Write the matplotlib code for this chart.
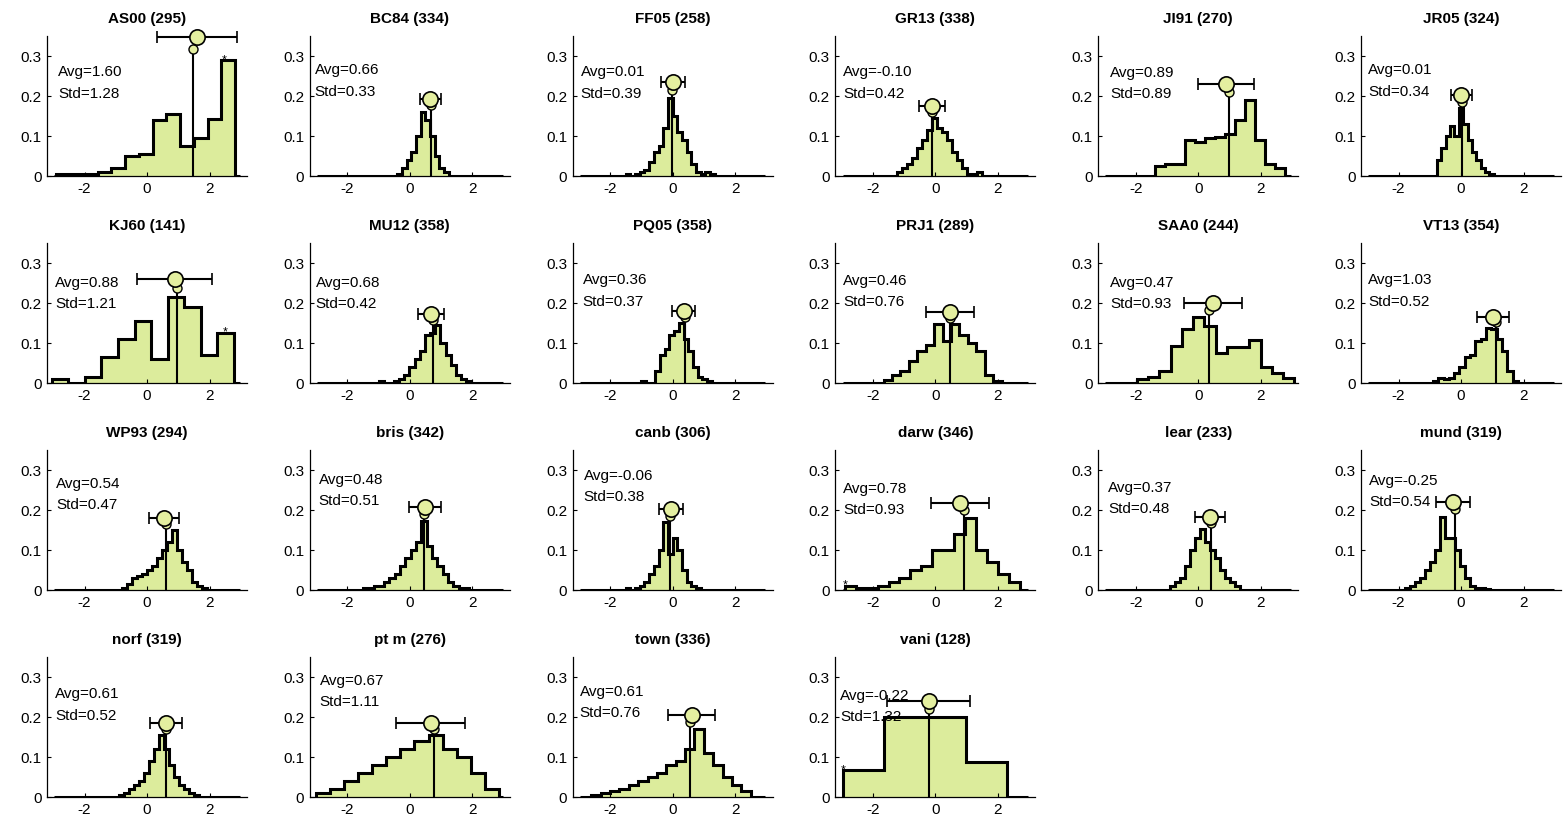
import numpy as np
import matplotlib
matplotlib.use("Agg")
import matplotlib.pyplot as plt

plt.rcParams['font.family'] = ['Liberation Sans', 'DejaVu Sans']
plt.rcParams['axes.unicode_minus'] = False

# station names, sample counts and summary statistics
names = ["AS00", "BC84", "FF05", "GR13", "JI91", "JR05",
         "KJ60", "MU12", "PQ05", "PRJ1", "SAA0", "VT13",
         "WP93", "bris", "canb", "darw", "lear", "mund",
         "norf", "pt m", "town", "vani"]
counts = [295, 334, 258, 338, 270, 324,
          141, 358, 358, 289, 244, 354,
          294, 342, 306, 346, 233, 319,
          319, 276, 336, 128]
avgs = [1.60, 0.66, 0.01, -0.10, 0.89, 0.01,
        0.88, 0.68, 0.36, 0.46, 0.47, 1.03,
        0.54, 0.48, -0.06, 0.78, 0.37, -0.25,
        0.61, 0.67, 0.61, -0.22]
stds = [1.28, 0.33, 0.39, 0.42, 0.89, 0.34,
        1.21, 0.42, 0.37, 0.76, 0.93, 0.52,
        0.47, 0.51, 0.38, 0.93, 0.48, 0.54,
        0.52, 1.11, 0.76, 1.32]
medians = [1.47, 0.67, -0.02, -0.10, 0.98, 0.03,
           0.95, 0.73, 0.40, 0.47, 0.33, 1.12,
           0.60, 0.47, -0.08, 0.90, 0.40, -0.20,
           0.62, 0.78, 0.55, -0.22]

# histogram layout: left edge of first listed bin and bin width
first_edge = [-2.90, -0.40, -1.50, -1.24, -1.37, -0.77,
              -3.05, -1.00, -1.00, -1.66, -1.96, -0.90,
              -0.80, -1.50, -1.50, -2.90, -0.90, -1.80,
              -0.90, -3.00, -2.60, -2.95]
bin_width = [0.44, 0.15, 0.15, 0.16, 0.32, 0.14,
             0.53, 0.165, 0.15, 0.27, 0.36, 0.17,
             0.16, 0.17, 0.15, 0.35, 0.16, 0.16,
             0.16, 0.45, 0.30, 1.31]

# fraction of samples per bin
h_AS00 = [0.003, 0.003, 0.004, 0.008, 0.018, 0.05, 0.055, 0.14, 0.155, 0.075, 0.095, 0.142, 0.288]
h_BC84 = [0.005, 0.02, 0.04, 0.06, 0.1, 0.16, 0.14, 0.1, 0.05, 0.02, 0.008]
h_FF05 = [0.005, 0.0, 0.005, 0.01, 0.015, 0.035, 0.06, 0.075, 0.12, 0.195, 0.15, 0.11,
          0.09, 0.06, 0.03, 0.01, 0.005, 0.01, 0.005]
h_GR13 = [0.01, 0.02, 0.03, 0.045, 0.07, 0.09, 0.115, 0.145, 0.12, 0.11, 0.09, 0.06,
          0.04, 0.02, 0.005, 0.005, 0.008]
h_JI91 = [0.025, 0.03, 0.028, 0.09, 0.085, 0.095, 0.097, 0.105, 0.14, 0.19, 0.09, 0.03, 0.02]
h_JR05 = [0.04, 0.07, 0.10, 0.125, 0.10, 0.168, 0.13, 0.09, 0.06, 0.04, 0.02, 0.01, 0.005]
h_KJ60 = [0.008, 0.0, 0.015, 0.065, 0.11, 0.155, 0.06, 0.215, 0.19, 0.07, 0.125]
h_MU12 = [0.005, 0.0, 0.0, 0.005, 0.01, 0.02, 0.04, 0.06, 0.08, 0.12, 0.125, 0.143, 0.1,
          0.07, 0.045, 0.02, 0.01, 0.005]
h_PQ05 = [0.003, 0.0, 0.0, 0.03, 0.07, 0.085, 0.12, 0.13, 0.149, 0.11, 0.08, 0.04, 0.015, 0.01, 0.005]
h_PRJ1 = [0.007, 0.02, 0.03, 0.055, 0.08, 0.095, 0.147, 0.105, 0.147, 0.12, 0.1, 0.08, 0.02, 0.005]
h_SAA0 = [0.008, 0.015, 0.03, 0.092, 0.135, 0.165, 0.142, 0.075, 0.09, 0.09, 0.106, 0.038, 0.025, 0.012]
h_VT13 = [0.005, 0.012, 0.008, 0.012, 0.025, 0.04, 0.065, 0.07, 0.105, 0.11, 0.137, 0.135,
          0.11, 0.08, 0.03, 0.005]
h_WP93 = [0.005, 0.015, 0.03, 0.035, 0.04, 0.05, 0.06, 0.08, 0.1, 0.12, 0.149, 0.1,
          0.07, 0.05, 0.02, 0.01, 0.005]
h_bris = [0.003, 0.005, 0.008, 0.01, 0.02, 0.03, 0.04, 0.06, 0.08, 0.1, 0.12, 0.172,
          0.11, 0.08, 0.06, 0.04, 0.02, 0.01, 0.005, 0.003]
h_canb = [0.003, 0.0, 0.005, 0.01, 0.02, 0.04, 0.06, 0.1, 0.168, 0.09, 0.13, 0.1, 0.05,
          0.02, 0.01, 0.005]
h_darw = [0.01, 0.003, 0.003, 0.01, 0.02, 0.03, 0.05, 0.06, 0.1, 0.1, 0.14, 0.18,
          0.1, 0.07, 0.04, 0.02]
h_lear = [0.01, 0.02, 0.03, 0.06, 0.1, 0.13, 0.151, 0.12, 0.1, 0.08, 0.05, 0.03, 0.02, 0.01]
h_mund = [0.003, 0.01, 0.02, 0.03, 0.05, 0.07, 0.1, 0.182, 0.13, 0.13, 0.1, 0.06, 0.03,
          0.01, 0.005, 0.003, 0.002]
h_norf = [0.005, 0.01, 0.02, 0.03, 0.04, 0.06, 0.09, 0.12, 0.153, 0.12, 0.08, 0.05, 0.03,
          0.02, 0.01, 0.005]
h_ptm = [0.01, 0.02, 0.04, 0.06, 0.08, 0.1, 0.12, 0.14, 0.153, 0.12, 0.1, 0.06, 0.02]
h_town = [0.005, 0.01, 0.015, 0.02, 0.03, 0.04, 0.05, 0.06, 0.08, 0.09, 0.12, 0.17,
          0.11, 0.08, 0.05, 0.03, 0.015]
h_vani = [0.066, 0.2, 0.2, 0.087]

heights = [h_AS00, h_BC84, h_FF05, h_GR13, h_JI91, h_JR05,
           h_KJ60, h_MU12, h_PQ05, h_PRJ1, h_SAA0, h_VT13,
           h_WP93, h_bris, h_canb, h_darw, h_lear, h_mund,
           h_norf, h_ptm, h_town, h_vani]

# bins holding values clipped at the plotting range: (bin index, position within bin)
starred_bin = {"AS00": (-1, 0.2), "KJ60": (-1, 0.45), "darw": (0, 0.0), "vani": (0, 0.0)}

x_ticks = [-2, 0, 2]
y_ticks = [0, 0.1, 0.2, 0.3]
y_tick_labels = ["0", "0.1", "0.2", "0.3"]

# placement of the Avg/Std note: pixels right of the y axis, pixels below the axes top
note_offset = [(11, 35.5), (5, 33.5), (8, 35.5), (8, 35.5), (12, 36.5), (7, 33.5),
               (8, 39.5), (6, 39.5), (10, 36.5), (8, 37.5), (12, 39.5), (7, 36.5),
               (9, 33.5), (9, 29.5), (11, 25.5), (8, 38.5), (10, 37.5), (8, 30.5),
               (8, 37), (10, 23.5), (7, 34.5), (5, 38.5)]

fill_color = "#dcec9c"
dot_color = "#e4efa0"

W, H = 1567, 829
AX_W, AX_H = 200, 140
fig = plt.figure(figsize=(W / 100, H / 100), dpi=100)

ncols = 6
for i, name in enumerate(names):
    r, c = divmod(i, ncols)
    left = (47 + 262.8 * c) / W
    bottom = 1 - (176.5 + 207 * r) / H
    ax = fig.add_axes([left, bottom, AX_W / W, AX_H / H])

    h = np.asarray(heights[i])
    edges = first_edge[i] + bin_width[i] * np.arange(len(h) + 1)
    vals = np.concatenate([[0.0], h, [0.0]])
    full_edges = np.concatenate([[min(-2.97, edges[0])], edges, [max(2.97, edges[-1])]])

    ax.stairs(vals, full_edges, fill=True, color=fill_color, lw=0, zorder=1)
    ax.stairs(vals, full_edges, baseline=None, color="k", lw=2.2, zorder=2)

    top = h.max()
    ax.plot([medians[i], medians[i]], [0, 1.1 * top], color="k", lw=1.5, zorder=3)
    ax.plot(medians[i], 1.1 * top, "o", ms=6.5, mfc=dot_color, mec="k", mew=1.0,
            zorder=4, clip_on=False)
    eb = ax.errorbar(avgs[i], 1.2 * top, xerr=stds[i], fmt="o", ms=11, mfc=dot_color,
                     mec="k", mew=1.2, ecolor="k", elinewidth=1.5, capsize=4,
                     capthick=1.5, zorder=5)
    for art in eb.lines[0:1] + tuple(eb.lines[1]) + tuple(eb.lines[2]):
        if art is not None:
            art.set_clip_on(False)

    if name in starred_bin:
        b, frac = starred_bin[name]
        b = b % len(h)
        ax.text(edges[b] + frac * bin_width[i], h[b] - 0.006, "*", ha="center",
                va="baseline", fontsize=9, zorder=6)

    dx, dy = note_offset[i]
    ax.text(dx / AX_W, 1 - dy / AX_H, f"Avg={avgs[i]:.2f}", transform=ax.transAxes,
            fontsize=11, va="center", ha="left", zorder=7)
    ax.text(dx / AX_W, 1 - (dy + 21.5) / AX_H, f"Std={stds[i]:.2f}", transform=ax.transAxes,
            fontsize=11, va="center", ha="left", zorder=7)

    ax.set_title(f"{name} ({counts[i]})", fontsize=11, fontweight="bold", pad=10)
    ax.set_xlim(-3.2, 3.2)
    ax.set_ylim(0, 0.35)
    ax.set_xticks(x_ticks)
    ax.set_xticklabels([str(t) for t in x_ticks])
    ax.set_yticks(y_ticks)
    ax.set_yticklabels(y_tick_labels)
    ax.tick_params(direction="in", length=3, width=0.8, labelsize=11, pad=4)
    for s in ("top", "right"):
        ax.spines[s].set_visible(False)
    for s in ("left", "bottom"):
        ax.spines[s].set_linewidth(0.9)

fig.savefig("out.png", dpi=100)
